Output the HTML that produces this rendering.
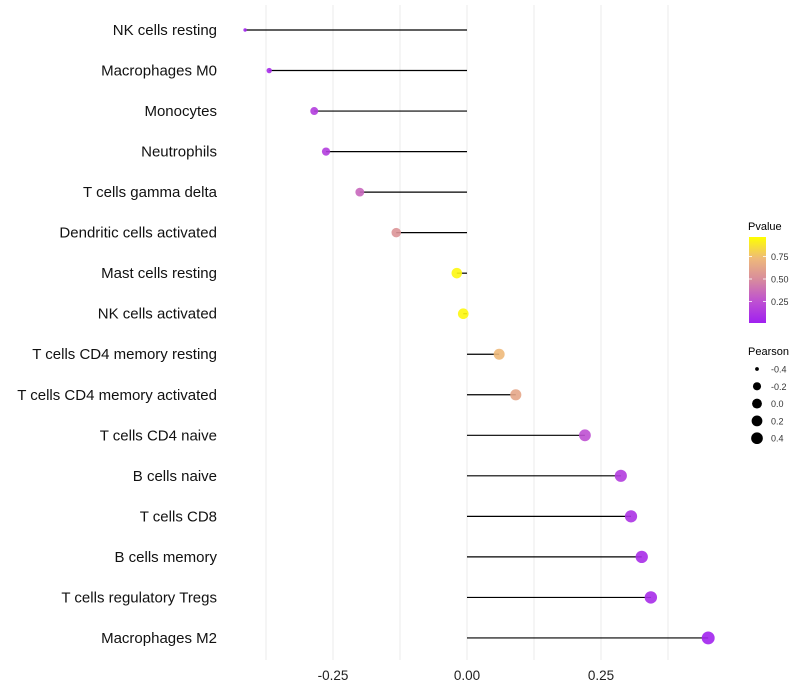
<!DOCTYPE html>
<html><head><meta charset="utf-8"><style>
body{margin:0;background:#fff;font-family:"Liberation Sans",sans-serif}
svg{display:block}
</style></head><body>
<svg id="chart" width="800" height="700"></svg>
<script>
const categories=["NK cells resting","Macrophages M0","Monocytes","Neutrophils","T cells gamma delta","Dendritic cells activated","Mast cells resting","NK cells activated","T cells CD4 memory resting","T cells CD4 memory activated","T cells CD4 naive","B cells naive","T cells CD8","B cells memory","T cells regulatory  Tregs","Macrophages M2"];
const pearson=[-0.414,-0.369,-0.285,-0.263,-0.200,-0.132,-0.019,-0.007,0.060,0.091,0.220,0.287,0.306,0.326,0.343,0.450];
const pvalue=[0.02,0.05,0.15,0.15,0.35,0.55,0.97,0.97,0.75,0.65,0.25,0.15,0.1,0.07,0.06,0.02];
const xTicks=[-0.25,0,0.25];
const xTickLabels=["-0.25","0.00","0.25"];
const gridVals=[-0.375,-0.25,-0.125,0,0.125,0.25,0.375];
const legP=[0.75,0.5,0.25];
const legS=[-0.4,-0.2,0,0.2,0.4];

const NS="http://www.w3.org/2000/svg";
const svg=document.getElementById('chart');
const xs=v=>467+v*536;
const ys=i=>30+i*40.53;
const sizeDom=[-0.42,-0.369,-0.285,-0.019,0.46];
const sizeRng=[1.6,2.7,4,5.3,6.5];
function rs(v){if(v<=sizeDom[0])return sizeRng[0];for(let k=1;k<sizeDom.length;k++){if(v<=sizeDom[k]){const t=(v-sizeDom[k-1])/(sizeDom[k]-sizeDom[k-1]);return sizeRng[k-1]+(sizeRng[k]-sizeRng[k-1])*t;}}return sizeRng[sizeRng.length-1];}
const stops=[[0,[160,32,240]],[0.25,[190,80,210]],[0.5,[215,138,158]],[0.75,[238,185,122]],[1,[255,255,0]]];
function col(p){p=Math.max(0,Math.min(1,p));for(let k=1;k<stops.length;k++){if(p<=stops[k][0]){const a=stops[k-1],b=stops[k];const t=(p-a[0])/(b[0]-a[0]);const c=a[1].map((x,j)=>Math.round(x+(b[1][j]-x)*t));return `rgb(${c})`;}}return 'rgb(255,255,0)';}
function mk(tag,attrs,parent){const e=document.createElementNS(NS,tag);for(const k in attrs)e.setAttribute(k,attrs[k]);(parent||svg).appendChild(e);return e;}

gridVals.forEach(v=>{
 const g=mk('line',{x1:xs(v),x2:xs(v),y1:5,y2:660,stroke:'#ebebeb','stroke-width':1});
 
 
});
xTicks.forEach((v,i)=>{
 const t=mk('text',{x:xs(v),y:680,'text-anchor':'middle','font-size':13.5,fill:'#222'});
 t.textContent=xTickLabels[i];
 
 
});
categories.forEach((c,i)=>{
 const y=ys(i);
 const t=mk('text',{x:217,y:y+5,'text-anchor':'end','font-size':15,fill:'#111'});
 t.textContent=c;
 
 
 const l=mk('line',{x1:xs(0),x2:xs(pearson[i]),y1:y,y2:y,stroke:'#000','stroke-width':1.2});
 
 
 const d=mk('circle',{cx:xs(pearson[i]),cy:y,r:rs(pearson[i]),fill:col(pvalue[i]),opacity:0.9});
 
 
});
const lt=mk('text',{x:748,y:230,'font-size':11,fill:'#000'});lt.textContent='Pvalue';


const defs=mk('defs',{});
const gr=mk('linearGradient',{id:'pg',x1:0,y1:1,x2:0,y2:0},defs);
stops.forEach(s=>mk('stop',{offset:s[0],'stop-color':`rgb(${s[1]})`},gr));
const bar=mk('rect',{x:749,y:237,width:17,height:86,fill:'url(#pg)'});


legP.forEach(p=>{
 const y=324-p*90;
 mk('line',{x1:749,x2:752,y1:y,y2:y,stroke:'#fff','stroke-width':0.8});
 mk('line',{x1:763,x2:766,y1:y,y2:y,stroke:'#fff','stroke-width':0.8});
 const t=mk('text',{x:771,y:y+3.5,'font-size':9,fill:'#333'});t.textContent=p.toFixed(2);
 
 
});
const st=mk('text',{x:748,y:355,'font-size':11,fill:'#000'});st.textContent='Pearson';


legS.forEach((v,i)=>{
 const y=369+i*17.3;
 const c=mk('circle',{cx:757,cy:y,r:rs(v)*0.92,fill:'#000'});
 
 
 const t=mk('text',{x:771,y:y+3.5,'font-size':9,fill:'#333'});t.textContent=v.toFixed(1);
 
 
});
</script>
</body></html>
